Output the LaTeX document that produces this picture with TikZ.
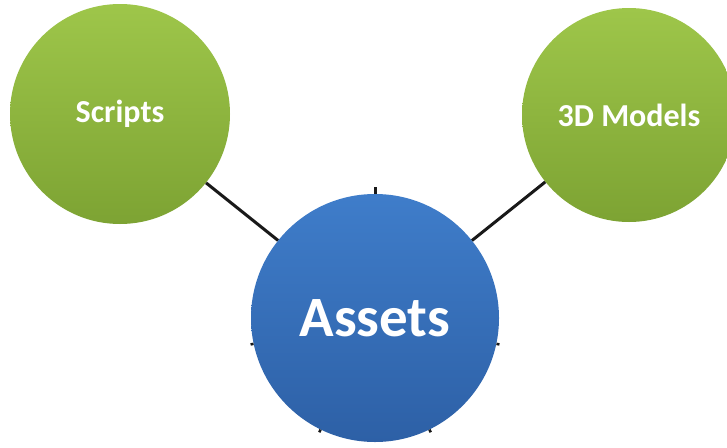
\documentclass[tikz,border=0pt]{standalone}
\usepackage{fontspec}
\setmainfont{Carlito}
\usetikzlibrary{calc}
\definecolor{greentop}{HTML}{9EC64A}
\definecolor{greenbot}{HTML}{7DA333}
\definecolor{bluetop}{HTML}{3F7DCA}
\definecolor{bluebot}{HTML}{2D60A6}
\tikzset{
  greenball/.style={circle, inner sep=0pt, top color=greentop, bottom color=greenbot,
    text=white, font=\bfseries\fontsize{32}{36}\selectfont},
  blueball/.style={circle, inner sep=0pt, top color=bluetop, bottom color=bluebot,
    text=white, font=\bfseries\fontsize{57}{62}\selectfont},
  link/.style={draw=black!90, line width=3pt},
  stub/.style={draw=black!90, line width=3pt}
}
\begin{document}
\begin{tikzpicture}[x=1pt,y=-1pt]
\useasboundingbox[fill=white] (0,0) rectangle (727,447);
\node[greenball, minimum size=220pt] (s) at (120,114) {Scripts};
\node[greenball, minimum size=214pt] (m) at (629,115) {3D Models};
\node[blueball, minimum size=248pt] (a) at (375,318) {Assets};
\draw[link] (s) -- (a);
\draw[link] (m) -- (a);
\coordinate (t1) at ($(a.90)+(90:7pt)$);
\coordinate (t2) at ($(a.192)+(192:3pt)$);
\coordinate (t3) at ($(a.244)+(244:3pt)$);
\coordinate (t4) at ($(a.296)+(296:3pt)$);
\coordinate (t5) at ($(a.348)+(348:3pt)$);
\draw[stub] (a.90) -- (t1);
\draw[stub, line width=2.5pt] (a.192) -- (t2);
\draw[stub, line width=2.5pt] (a.244) -- (t3);
\draw[stub, line width=2.5pt] (a.296) -- (t4);
\draw[stub, line width=2.5pt] (a.348) -- (t5);
\end{tikzpicture}
\end{document}
